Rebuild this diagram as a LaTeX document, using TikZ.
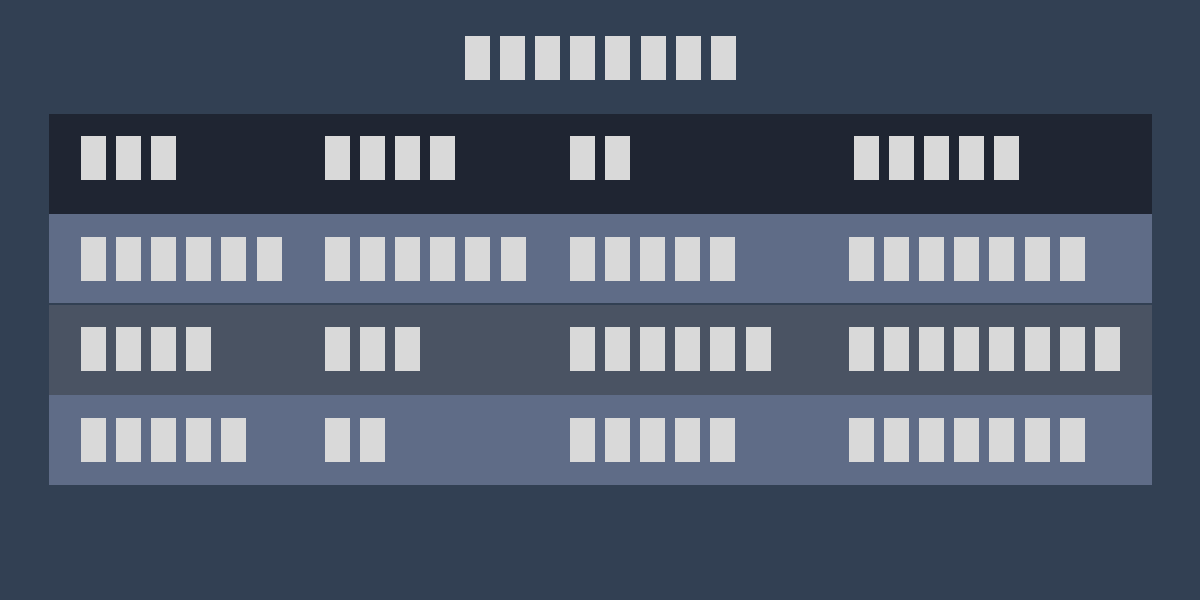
\documentclass[tikz,border=0pt]{standalone}
\definecolor{bgc}{RGB}{50,64,83}
\definecolor{headc}{RGB}{31,37,50}
\definecolor{rowlight}{RGB}{95,108,135}
\definecolor{rowdark}{RGB}{74,83,99}
\definecolor{glyphc}{RGB}{217,217,217}
\newcommand{\tofurow}[3]{% x, ytop, count
  \foreach \i in {1,...,#3}{
    \fill[glyphc] ({#1+(\i-1)*35.1},#2) rectangle ++(25,44);
  }%
}
\begin{document}
\begin{tikzpicture}[x=1pt,y=-1pt]
\useasboundingbox (0,0) rectangle (1200,600);
\fill[bgc] (0,0) rectangle (1200,600);
% table rows
\fill[headc] (49,114) rectangle (1152,214);
\fill[rowlight] (49,214) rectangle (1152,303);
\fill[bgc] (49,303) rectangle (1152,305);
\fill[rowdark] (49,305) rectangle (1152,395);
\fill[rowlight] (49,395) rectangle (1152,485);
% title
\tofurow{465}{36}{8}
% header
\tofurow{81}{136}{3}
\tofurow{325}{136}{4}
\tofurow{570}{136}{2}
\tofurow{854}{136}{5}
% row 1
\tofurow{81}{237}{6}
\tofurow{325}{237}{6}
\tofurow{570}{237}{5}
\tofurow{849}{237}{7}
% row 2
\tofurow{81}{327}{4}
\tofurow{325}{327}{3}
\tofurow{570}{327}{6}
\tofurow{849}{327}{8}
% row 3
\tofurow{81}{418}{5}
\tofurow{325}{418}{2}
\tofurow{570}{418}{5}
\tofurow{849}{418}{7}
\end{tikzpicture}
\end{document}
